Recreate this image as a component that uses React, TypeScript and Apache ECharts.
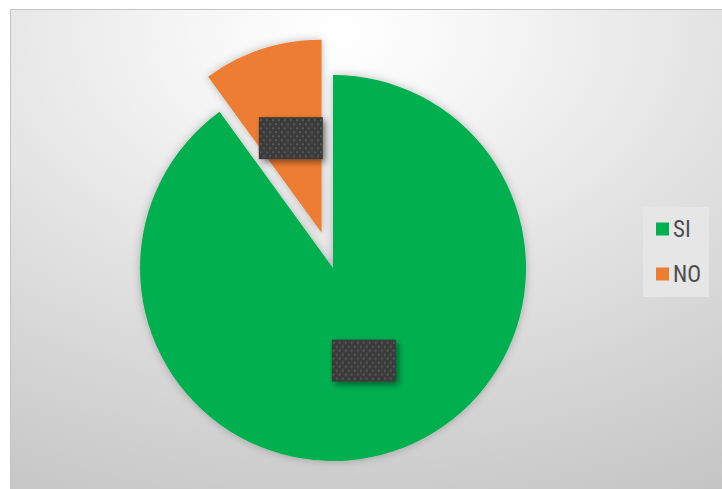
import React, { useEffect, useRef } from "react";
import * as echarts from "echarts";

const categories = ["SI", "NO"];
const values = [90, 10];
const colors = ["#00B050", "#ED7D31"];

function makePattern(w: number, h: number): string {
  const c = document.createElement("canvas");
  c.width = w;
  c.height = h;
  const ctx = c.getContext("2d");
  if (!ctx) return "";
  ctx.fillStyle = "#3b3b3b";
  ctx.fillRect(0, 0, w, h);
  ctx.fillStyle = "#585858";
  let row = 0;
  for (let y = 2; y < h; y += 4) {
    const off = row % 2 === 0 ? 1 : 4;
    for (let x = off; x < w; x += 6) {
      ctx.fillRect(x, y, 2, 2);
    }
    row++;
  }
  return c.toDataURL();
}

export default function App() {
  const ref = useRef<HTMLDivElement>(null);
  useEffect(() => {
    if (!ref.current) return;
    const chart = echarts.init(ref.current, null, { renderer: "svg" });
    const pat = makePattern(64, 42);
    const labelBase = {
      show: true,
      position: "inside",
      formatter: " ",
      width: 64,
      height: 42,
      backgroundColor: { image: pat },
      shadowBlur: 6,
      shadowColor: "rgba(0,0,0,0.45)",
      shadowOffsetX: 3,
      shadowOffsetY: 3,
    };
    const offsets = [[0, -2], [0, 3]];
    chart.setOption({
      animation: false,
      graphic: [
        {
          type: "rect",
          z: -10,
          shape: { x: 10.5, y: 9.5, width: 712, height: 480 },
          style: {
            fill: new echarts.graphic.RadialGradient(0.46, 0.05, 1.2, [
              { offset: 0, color: "#ffffff" },
              { offset: 0.15, color: "#f7f7f7" },
              { offset: 1, color: "#bebebe" },
            ]),
            stroke: "#c4c4c4",
            lineWidth: 1,
          },
        },
      ],
      legend: {
        orient: "vertical",
        left: 643,
        top: 207,
        padding: [10, 8, 11, 13],
        backgroundColor: "#e6e6e6",
        itemWidth: 13,
        itemHeight: 13,
        itemGap: 21,
        icon: "rect",
        data: categories,
        textStyle: {
          fontFamily: "'Liberation Sans Narrow', 'Roboto Condensed', 'Liberation Sans', sans-serif",
          fontSize: 23,
          lineHeight: 24,
          color: "#4d4d4d",
          padding: [0, 0, 0, -1],
        },
      },
      series: [
        {
          type: "pie",
          center: [333, 268],
          radius: [0, 193],
          startAngle: 90,
          clockwise: true,
          selectedMode: "multiple",
          selectedOffset: 37,
          emphasis: { disabled: true },
          labelLine: { show: false },
          itemStyle: {
            shadowBlur: 8,
            shadowColor: "rgba(0,0,0,0.25)",
          },
          data: categories.map((name, i) => ({
            name,
            value: values[i],
            selected: name === "NO",
            itemStyle: { color: colors[i] },
            label: { ...labelBase, offset: offsets[i] },
          })),
        },
      ],
    });
    return () => chart.dispose();
  }, []);
  return (
    <div
      ref={ref}
      style={{ position: "absolute", left: 0, top: 0, width: 722, height: 489 }}
    />
  );
}
